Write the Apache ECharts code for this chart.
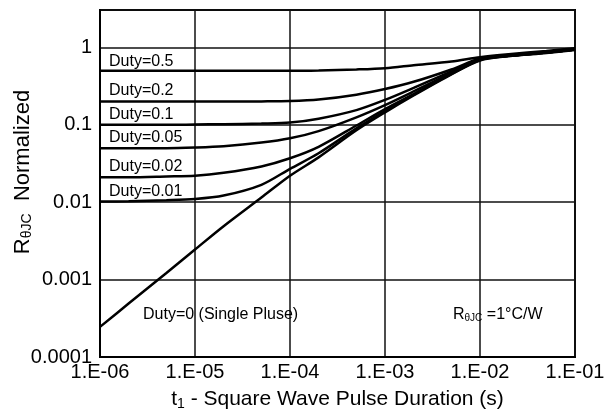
<!DOCTYPE html>
<html>
<head>
<meta charset="utf-8">
<script src="https://cdn.jsdelivr.net/npm/echarts@6/dist/echarts.min.js"></script>
<style>
html,body{margin:0;padding:0;background:#fff;}
#chart{width:605px;height:417px;}
</style>
</head>
<body>
<div id="chart"></div>
<script>
// ---- data ----
const pulseTimes = [1e-6, 2e-6, 5e-6, 1e-5, 2e-5, 5e-5, 1e-4, 2e-4, 5e-4, 1e-3, 2e-3, 5e-3, 1e-2, 2e-2, 5e-2, 1e-1];
const duty05   = [0.5,    0.5,    0.5,    0.5,    0.5,    0.5,    0.5,   0.505, 0.52,  0.54,  0.59, 0.66, 0.75, 0.82, 0.9,  0.98];
const duty02   = [0.2,    0.2,    0.2,    0.2,    0.2,    0.201,  0.203, 0.212, 0.245, 0.29,  0.36, 0.52, 0.72, 0.8,  0.88, 0.96];
const duty01   = [0.1,    0.1,    0.1,    0.101,  0.102,  0.104,  0.107, 0.12,  0.155, 0.21,  0.3,  0.49, 0.71, 0.78, 0.86, 0.94];
const duty005  = [0.05,   0.05,   0.05,   0.051,  0.053,  0.059,  0.067, 0.083, 0.125, 0.18,  0.27, 0.47, 0.7,  0.78, 0.86, 0.94];
const duty002  = [0.021,  0.021,  0.0215, 0.022,  0.024,  0.029,  0.037, 0.052, 0.098, 0.16,  0.25, 0.46, 0.7,  0.78, 0.86, 0.94];
const duty001  = [0.0102, 0.0103, 0.0106, 0.011,  0.0122, 0.0168, 0.027, 0.043, 0.09,  0.15,  0.245,0.455,0.69, 0.78, 0.86, 0.94];
const single   = [2.45e-4,4.9e-4, 1.22e-3,2.45e-3,4.9e-3, 1.15e-2, 0.022, 0.038, 0.085, 0.145, 0.24, 0.45, 0.68, 0.77, 0.85, 0.93];
const seriesNames = ['Duty=0.5','Duty=0.2','Duty=0.1','Duty=0.05','Duty=0.02','Duty=0.01','Duty=0 (Single Pluse)'];
const seriesValues = [duty05, duty02, duty01, duty005, duty002, duty001, single];
const xTickLabels = ['1.E-06','1.E-05','1.E-04','1.E-03','1.E-02','1.E-01'];
const yTickLabels = ['0.0001','0.001','0.01','0.1','1'];
const xMinExp = -6, yMinExp = -4;

const FONT = 'Liberation Sans, Arial, sans-serif';
const chart = echarts.init(document.getElementById('chart'), null, {renderer:'canvas'});

function decadeLabel(v, labels, minExp){
  const l = Math.log10(v);
  const r = Math.round(l);
  if (Math.abs(l - r) > 1e-6) return '';
  const i = r - minExp;
  return (i >= 0 && i < labels.length) ? labels[i] : '';
}

const series = seriesValues.map((vals, k) => ({
  name: seriesNames[k],
  type: 'line',
  data: pulseTimes.map((t, i) => [t, vals[i]]),
  showSymbol: false,
  smooth: 0.3,
  lineStyle: {color: '#000', width: 2.5},
  z: 3,
  silent: true
}));

const dutyLabelY = [62, 91, 115, 137.5, 167, 192];
const graphics = seriesNames.slice(0, 6).map((n, i) => ({
  type: 'text', x: 109, y: dutyLabelY[i], z: 10,
  style: {text: n, font: '16px ' + FONT, fill: '#000', verticalAlign: 'middle', textAlign: 'left'}
}));
graphics.push({
  type: 'text', x: 143, y: 315, z: 10,
  style: {text: seriesNames[6], font: '16px ' + FONT, fill: '#000', verticalAlign: 'middle', textAlign: 'left'}
});
graphics.push({
  type: 'text', x: 453, y: 315, z: 10,
  style: {
    text: '{r|R}{s|θJC}{r| =1°C/W}', verticalAlign: 'middle', textAlign: 'left', fill: '#000',
    rich: {
      r: {fontSize: 16, fontFamily: FONT, fill: '#000', color: '#000'},
      s: {fontSize: 10, fontFamily: FONT, fill: '#000', color: '#000', padding: [7, 0, 0, 0]}
    }
  }
});

chart.setOption({
  animation: false,
  backgroundColor: '#fff',
  grid: {left: 100, right: 30, top: 10, bottom: 60, containLabel: false, outerBoundsMode: 'none',
    show: true, borderColor: '#000', borderWidth: 2, backgroundColor: 'transparent'},
  xAxis: {
    type: 'log', logBase: 10, min: 1e-6, max: 1e-1,
    axisLine: {show: true, lineStyle: {color: '#000', width: 2}},
    axisTick: {show: false},
    splitLine: {show: true, lineStyle: {color: '#111', width: 1.5}},
    axisLabel: {color: '#000', fontSize: 20, fontFamily: FONT, margin: 5,
      formatter: v => decadeLabel(v, xTickLabels, xMinExp)},
    name: '{r|t}{s|1}{r| - Square Wave Pulse Duration (s)}',
    nameLocation: 'middle', nameGap: 31, nameMoveOverlap: false,
    nameTextStyle: {
      rich: {
        r: {fontSize: 21, fontFamily: FONT, color: '#000'},
        s: {fontSize: 14, fontFamily: FONT, color: '#000', padding: [9, 0, 0, 0]}
      }
    }
  },
  yAxis: {
    type: 'log', logBase: 10, min: 1e-4, max: 3.05,
    axisLine: {show: true, lineStyle: {color: '#000', width: 2}},
    axisTick: {show: false},
    splitLine: {show: true, lineStyle: {color: '#111', width: 1.5}},
    axisLabel: {color: '#000', fontSize: 20, fontFamily: FONT, margin: 8,
      formatter: v => decadeLabel(v, yTickLabels, yMinExp)},
    name: '{r|R}{s|θJC}{r|  Normalized}',
    nameLocation: 'middle', nameGap: 66, nameMoveOverlap: false,
    nameTextStyle: {
      padding: [0, 0, 0, 23],
      rich: {
        r: {fontSize: 22, fontFamily: FONT, color: '#000'},
        s: {fontSize: 14, fontFamily: FONT, color: '#000', padding: [9, 0, 0, 0]}
      }
    }
  },
  series: series,
  graphic: graphics
});
</script>
</body>
</html>
